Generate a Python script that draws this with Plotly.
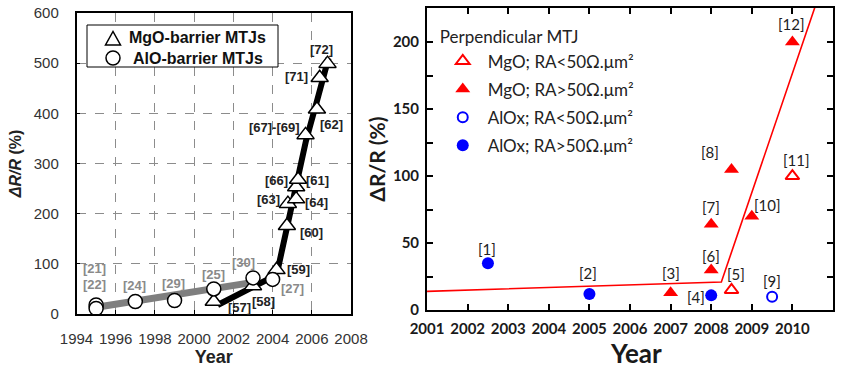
import plotly.graph_objects as go

# ---------------- Left panel: TMR history, MgO vs AlO barriers ----------------
alo_years = [1995, 1995, 1997, 1999, 2001, 2003, 2004]
alo_values = [18, 11, 25, 27, 50, 72, 69]
alo_refs = ["[21]", "[22]", "[24]", "[29]", "[25]", "[30]", "[27]"]
alo_ref_x = [1994.9, 1994.9, 1996.95, 1998.93, 2001.0, 2002.5, 2005.0]
alo_ref_y = [90, 58, 56, 61, 79, 102, 51]

mgo_years = [2001, 2003, 2004.2, 2004.73, 2004.78, 2005.2, 2005.2, 2005.3, 2005.68, 2006.26, 2006.4, 2006.8]
mgo_values = [25, 56, 88, 176, 220, 229, 253, 268, 357, 408, 471, 499]
mgo_refs = ["[57]", "[58]", "[59]", "[60]", "[63]", "[64]", "[66]", "[61]", "[67]-[69]", "[62]", "[71]", "[72]"]
mgo_ref_x = [2002.3, 2003.55, 2005.33, 2005.98, 2003.77, 2006.26, 2004.2, 2006.3, 2004.1, 2007.0, 2005.24, 2006.48]
mgo_ref_y = [13, 25, 89, 163, 229, 223, 267, 267, 371, 377, 473, 527]

alo_trend_years = [1995.1, 2003.0]
alo_trend_values = [14, 63]
mgo_trend_years = [2001.2, 2003.0, 2004.0, 2004.3, 2004.75, 2005.25, 2005.7, 2006.3, 2006.85]
mgo_trend_values = [18, 55, 74, 95, 178, 258, 345, 430, 510]

left_legend_labels = ["MgO-barrier MTJs", "AlO-barrier MTJs"]

# ---------------- Right panel: perpendicular MTJs ----------------
mgo_lo_years = [2008.5, 2010]
mgo_lo_values = [15, 100]
mgo_lo_refs = ["[5]", "[11]"]
mgo_lo_ref_x = [2008.6, 2010.1]
mgo_lo_ref_y = [26.6, 112]

mgo_hi_years = [2007, 2008, 2008, 2008.5, 2009, 2010]
mgo_hi_values = [13, 30, 64, 105, 70, 200]
mgo_hi_refs = ["[3]", "[6]", "[7]", "[8]", "[10]", "[12]"]
mgo_hi_ref_x = [2007.0, 2008.0, 2008.0, 2007.98, 2009.38, 2009.98]
mgo_hi_ref_y = [27.8, 40.3, 76.6, 117.7, 78.4, 213.4]

alox_lo_years = [2009.5]
alox_lo_values = [10]
alox_lo_refs = ["[9]"]
alox_lo_ref_x = [2009.5]
alox_lo_ref_y = [21.9]

alox_hi_years = [2002.5, 2005, 2008]
alox_hi_values = [35, 12, 11]
alox_hi_refs = ["[1]", "[2]", "[4]"]
alox_hi_ref_x = [2002.48, 2004.97, 2007.63]
alox_hi_ref_y = [45.5, 27.4, 10.0]

pmtj_trend_years = [2001, 2008.25, 2010.7]
pmtj_trend_values = [14, 21, 239]

right_ytick_vals = list(range(0, 226, 25))
right_ytick_text = [str(v) if v % 50 == 0 else "" for v in right_ytick_vals]
right_xtick_vals = list(range(2001, 2012))

ARIAL = "Liberation Sans, Arial, sans-serif"
CAL = "Lato, Carlito, sans-serif"
W, H = 850, 367


def px(x):
    return x / W


def py(y):
    return 1 - y / H


fig = go.Figure()

# left panel traces
fig.add_trace(go.Scatter(x=alo_trend_years, y=alo_trend_values, mode="lines",
                         line=dict(color="#7f7f7f", width=7), showlegend=False,
                         xaxis="x", yaxis="y"))
fig.add_trace(go.Scatter(x=mgo_trend_years, y=mgo_trend_values, mode="lines",
                         line=dict(color="black", width=6), showlegend=False,
                         xaxis="x", yaxis="y"))
fig.add_trace(go.Scatter(x=mgo_years, y=mgo_values, mode="markers", name=left_legend_labels[0],
                         marker=dict(symbol="triangle-up", size=15, color="white",
                                     line=dict(color="black", width=1.5)),
                         xaxis="x", yaxis="y", showlegend=False))
fig.add_trace(go.Scatter(x=alo_years, y=alo_values, mode="markers", name=left_legend_labels[1],
                         marker=dict(symbol="circle", size=14, color="white",
                                     line=dict(color="black", width=1.5)),
                         xaxis="x", yaxis="y", showlegend=False))

# right panel traces
fig.add_trace(go.Scatter(x=pmtj_trend_years, y=pmtj_trend_values, mode="lines",
                         line=dict(color="red", width=1.6), showlegend=False,
                         xaxis="x2", yaxis="y2"))
fig.add_trace(go.Scatter(x=mgo_lo_years, y=mgo_lo_values, mode="markers",
                         name="MgO; RA&lt;50Ω.μm²", legendgroup="g1",
                         marker=dict(symbol="triangle-up-open", size=12, color="red",
                                     line=dict(width=2)),
                         xaxis="x2", yaxis="y2", legend="legend2"))
fig.add_trace(go.Scatter(x=mgo_hi_years, y=mgo_hi_values, mode="markers",
                         name="MgO; RA>50Ω.μm²", legendgroup="g2",
                         marker=dict(symbol="triangle-up", size=13, color="red"),
                         xaxis="x2", yaxis="y2", legend="legend2"))
fig.add_trace(go.Scatter(x=alox_lo_years, y=alox_lo_values, mode="markers",
                         name="AlOx; RA&lt;50Ω.μm²", legendgroup="g3",
                         marker=dict(symbol="circle-open", size=10, color="blue",
                                     line=dict(width=2)),
                         xaxis="x2", yaxis="y2", legend="legend2"))
fig.add_trace(go.Scatter(x=alox_hi_years, y=alox_hi_values, mode="markers",
                         name="AlOx; RA>50Ω.μm²", legendgroup="g4",
                         marker=dict(symbol="circle", size=12, color="blue"),
                         xaxis="x2", yaxis="y2", legend="legend2"))

annotations = []
for t, x, y in zip(alo_refs, alo_ref_x, alo_ref_y):
    annotations.append(dict(x=x, y=y, xref="x", yref="y", text="<b>" + t + "</b>",
                            showarrow=False, font=dict(family=ARIAL, size=13, color="#8a8a8a")))
for t, x, y in zip(mgo_refs, mgo_ref_x, mgo_ref_y):
    annotations.append(dict(x=x, y=y, xref="x", yref="y", text="<b>" + t + "</b>",
                            showarrow=False, font=dict(family=ARIAL, size=13, color="#222222")))
for refs, xs, ys in [(mgo_lo_refs, mgo_lo_ref_x, mgo_lo_ref_y),
                     (mgo_hi_refs, mgo_hi_ref_x, mgo_hi_ref_y),
                     (alox_lo_refs, alox_lo_ref_x, alox_lo_ref_y),
                     (alox_hi_refs, alox_hi_ref_x, alox_hi_ref_y)]:
    for t, x, y in zip(refs, xs, ys):
        annotations.append(dict(x=x, y=y, xref="x2", yref="y2", text=t, showarrow=False,
                                font=dict(family=CAL, size=15, color="#222222")))

# boxed key for the left panel: frame, symbols and bold labels
shapes = [
    dict(type="rect", xref="paper", yref="paper", x0=px(87), x1=px(278), y0=py(67), y1=py(25),
         line=dict(color="black", width=1), fillcolor="white", layer="above"),
    dict(type="path", xref="paper", yref="paper", layer="above",
         path=f"M {px(105.5)},{py(45)} L {px(120.5)},{py(45)} L {px(113)},{py(31.5)} Z",
         line=dict(color="black", width=1.5), fillcolor="white"),
    dict(type="circle", xref="paper", yref="paper", layer="above",
         x0=px(106), x1=px(120), y0=py(65), y1=py(51),
         line=dict(color="black", width=1.5), fillcolor="white"),
]
annotations.append(dict(x=px(268), y=py(38), xref="paper", yref="paper",
                        xanchor="right", yanchor="middle",
                        text="<b>" + left_legend_labels[0] + "</b>", showarrow=False,
                        font=dict(family=ARIAL, size=16, color="#111111")))
annotations.append(dict(x=px(265), y=py(58), xref="paper", yref="paper",
                        xanchor="right", yanchor="middle",
                        text="<b>" + left_legend_labels[1] + "</b>", showarrow=False,
                        font=dict(family=ARIAL, size=16, color="#111111")))
# x-axis title of the right panel, placed below the year labels
annotations.append(dict(x=px(636), y=py(353), xref="paper", yref="paper",
                        xanchor="center", yanchor="middle", text="<b>Year</b>",
                        showarrow=False, font=dict(family=CAL, size=26, color="#1a1a1a")))

grid = dict(showgrid=True, gridcolor="#8c8c8c", griddash="dash", gridwidth=1)

fig.update_layout(
    width=W, height=H,
    margin=dict(l=0, r=0, t=0, b=0, autoexpand=False),
    paper_bgcolor="white", plot_bgcolor="white",
    annotations=annotations, shapes=shapes,
    xaxis=dict(domain=[0.09, 0.413], range=[1994, 2008], dtick=2, tick0=1994,
               showline=True, linecolor="black", linewidth=1.5, mirror=True,
               ticks="inside", ticklen=4, tickcolor="black", zeroline=False,
               ticklabelstandoff=10, automargin=False,
               tickfont=dict(family=ARIAL, size=15, color="#333333"),
               title=dict(text="<b>Year</b>", font=dict(family=ARIAL, size=18, color="#222222"),
                          standoff=4),
               anchor="y", **grid),
    yaxis=dict(domain=[0.1444, 0.9646], range=[0, 600], dtick=100,
               showline=True, linecolor="black", linewidth=1.5, mirror=True,
               ticks="inside", ticklen=4, tickcolor="black", zeroline=False,
               ticklabelstandoff=13, automargin=False,
               tickfont=dict(family=ARIAL, size=15, color="#333333"),
               title=dict(text="<b><i>ΔR/R</i> (%)</b>",
                          font=dict(family=ARIAL, size=16, color="#222222"), standoff=8),
               anchor="x", **grid),
    xaxis2=dict(domain=[0.5024, 0.98], range=[2001, 2011], tickvals=right_xtick_vals,
                showline=True, linecolor="black", linewidth=2, mirror="ticks",
                ticks="inside", ticklen=6, tickwidth=2, tickcolor="black",
                showgrid=False, zeroline=False, ticklabelstandoff=4, automargin=False,
                tickfont=dict(family=CAL, size=15, color="#1a1a1a", weight="bold"),
                anchor="y2"),
    yaxis2=dict(domain=[0.155, 0.978], range=[0, 225.4], tickvals=right_ytick_vals,
                ticktext=right_ytick_text,
                showline=True, linecolor="black", linewidth=2, mirror="ticks",
                ticks="inside", ticklen=6, tickwidth=2, tickcolor="black",
                showgrid=False, zeroline=False, ticklabelstandoff=3, automargin=False,
                tickfont=dict(family=CAL, size=15, color="#1a1a1a", weight="bold"),
                title=dict(text="<b>ΔR/R (%)</b>", font=dict(family=CAL, size=21, color="#1a1a1a"),
                           standoff=2),
                anchor="x2"),
    legend2=dict(x=0.515, y=0.942, xanchor="left", yanchor="top",
                 bgcolor="rgba(0,0,0,0)", borderwidth=0, itemwidth=40,
                 title=dict(text="Perpendicular MTJ", font=dict(family=CAL, size=17, color="#222222")),
                 font=dict(family=CAL, size=17, color="#222222"),
                 tracegroupgap=3, itemsizing="trace"),
)

fig.write_html("out.html")
